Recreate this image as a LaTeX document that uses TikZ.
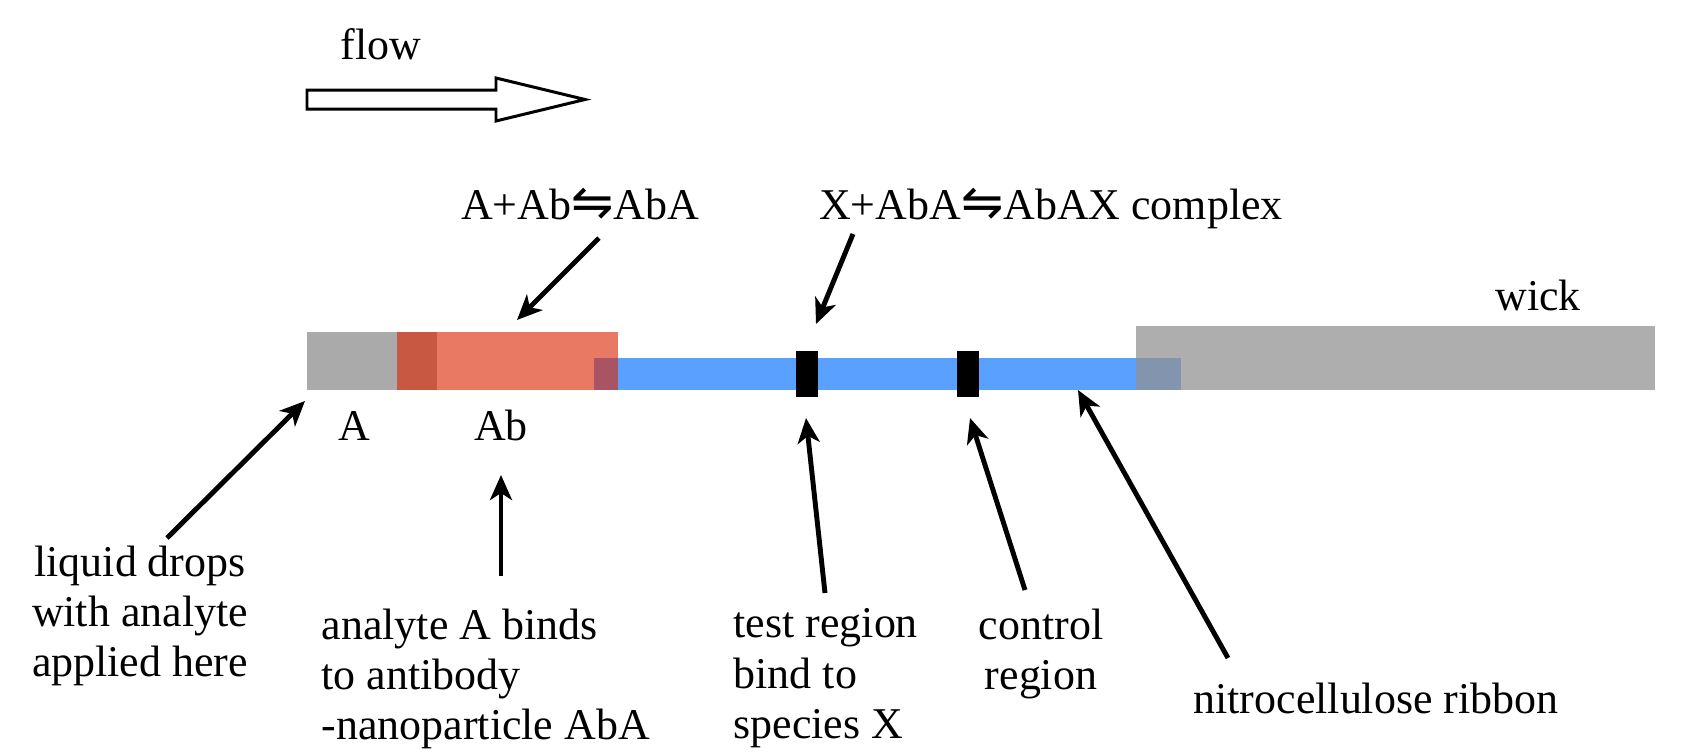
\documentclass[tikz,border=0pt]{standalone}
\usepackage{fontspec}
\setmainfont{Liberation Serif}
\newfontfamily\harpfont[Scale=1.15]{DejaVu Sans}
\usetikzlibrary{arrows.meta}
\definecolor{padgrey}{RGB}{170,170,170}
\definecolor{padred}{RGB}{219,38,3}
\definecolor{ribbonblue}{RGB}{90,160,255}
\definecolor{wickgrey}{RGB}{146,146,146}
\newcommand{\eqharp}{{\harpfont ⇋}}

\begin{document}
\begin{tikzpicture}[x=0.1mm, y=-0.1mm,
  txt/.style={inner sep=0pt, font=\fontsize{12.5}{14.3}\selectfont},
  ptr/.style={-{Stealth[length=2.5mm, width=2.2mm, inset=0.7mm]}, line width=1.4pt}]
\useasboundingbox (0,0) rectangle (1683,755);
% flow direction
\draw[line width=0.85pt, fill=white] (307,90) -- (496,90) -- (496,78) -- (585,99.5)
  -- (496,121) -- (496,109) -- (307,109) -- cycle;
\node[txt, anchor=base](flow) at (381,59){flow};
% test strip
\fill[padgrey] (307,332) rectangle (437,390);
\fill[ribbonblue] (594,358) rectangle (1181,390);
\fill[padred, opacity=0.62] (397,332) rectangle (618,390);
\fill[wickgrey, opacity=0.74] (1136,326) rectangle (1655,390);
\fill (796,351) rectangle (818,397);
\fill (957,351) rectangle (979,397);
% labels
\node[txt, anchor=base](rxnA) at (580,219){A+Ab\eqharp AbA};
\node[txt, anchor=base](rxnX) at (1051,219){X+AbA\eqharp AbAX complex};
\node[txt, anchor=base](wick) at (1538,310){wick};
\node[txt, anchor=base](labA) at (354,440){A};
\node[txt, anchor=base](labAb) at (501,440){Ab};
\node[txt, align=center, anchor=north](drops) at (140,545){liquid drops\\with analyte\\applied here};
\node[txt, align=left, anchor=north west](binds) at (321,608){analyte A binds\\to antibody\\-nanoparticle AbA};
\node[txt, align=left, anchor=north west](test) at (733,608){test region\\bind to\\species X};
\node[txt, align=center, anchor=north](control) at (1041,608){control\\region};
\node[txt, anchor=base](nitro) at (1376,713){nitrocellulose ribbon};
% arrow ends
\coordinate (mixtail) at (599,238);   \coordinate (mixtip) at (517,320);
\coordinate (cplxtail) at (853,234);  \coordinate (cplxtip) at (816,324);
\coordinate (droptail) at (167,538);  \coordinate (droptip) at (305,401);
\coordinate (padtail) at (501,576);   \coordinate (padtip) at (501,475);
\coordinate (testtail) at (825,593);  \coordinate (testtip) at (806,418);
\coordinate (ctrltail) at (1025,590); \coordinate (ctrltip) at (970,418);
\coordinate (nitrotail) at (1228,658);\coordinate (nitrotip) at (1078,390);
\draw[ptr](mixtail)--(mixtip);
\draw[ptr](cplxtail)--(cplxtip);
\draw[ptr](droptail)--(droptip);
\draw[ptr](padtail)--(padtip);
\draw[ptr](testtail)--(testtip);
\draw[ptr](ctrltail)--(ctrltip);
\draw[ptr](nitrotail)--(nitrotip);
\end{tikzpicture}
\end{document}
